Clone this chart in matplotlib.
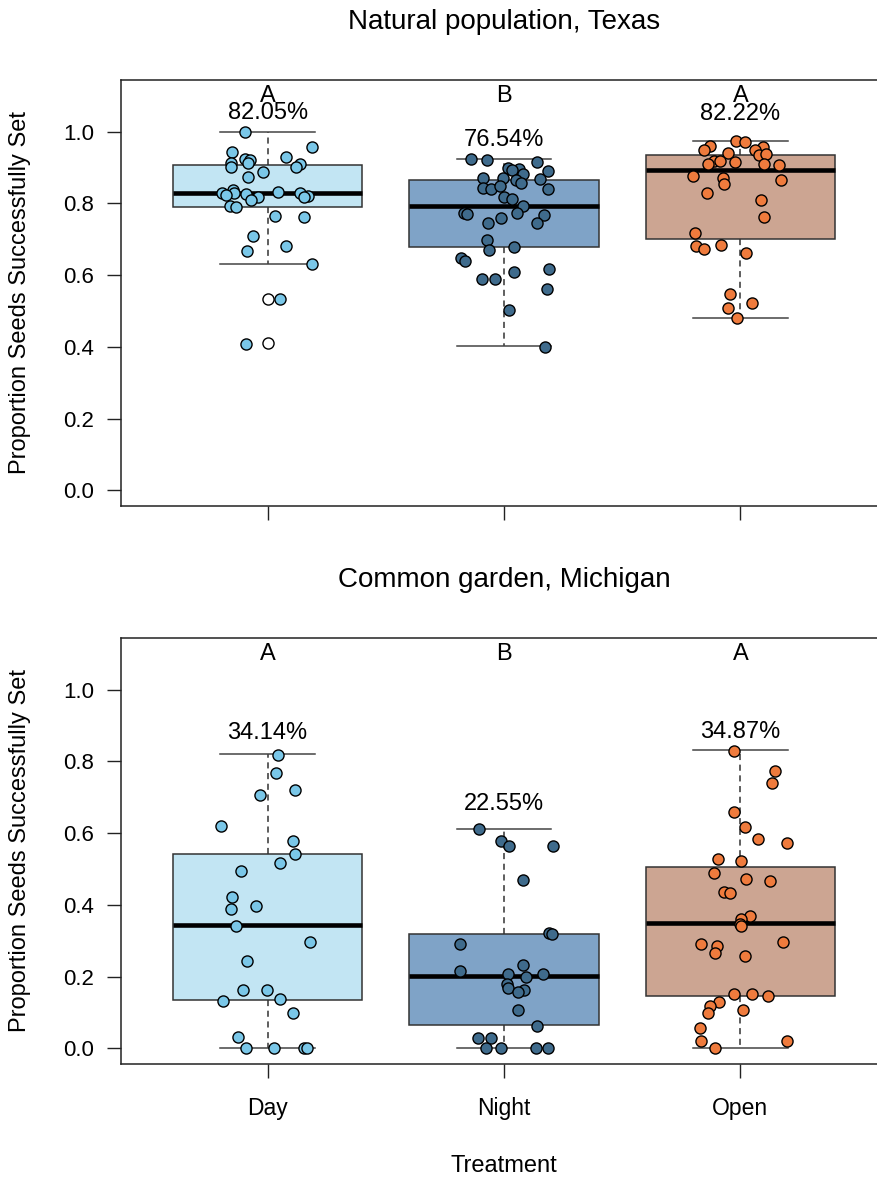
import matplotlib
matplotlib.use("Agg")
import matplotlib.pyplot as plt
import numpy as np

plt.rcParams['font.family'] = ['Liberation Sans', 'DejaVu Sans']

treatments = ["Day", "Night", "Open"]
point_colors = ["#7ac7e8", "#3f6b8c", "#ef7b3d"]
box_colors = ["#c2e5f3", "#7fa3c7", "#cca592"]
letters = ["A", "B", "A"]

# ---------------- Natural population, Texas ----------------
tx_q1 = [0.790, 0.677, 0.700]
tx_med = [0.830, 0.792, 0.892]
tx_q3 = [0.908, 0.866, 0.936]
tx_lo = [0.632, 0.401, 0.479]
tx_hi = [1.000, 0.924, 0.975]
tx_fliers = [[0.532, 0.410], [], []]
tx_pct = ["82.05%", "76.54%", "82.22%"]
tx_pct_y = [1.052, 0.977, 1.050]

tx_day_y = [1.000, 0.956, 0.943, 0.928, 0.925, 0.922, 0.913, 0.913, 0.910, 0.902,
            0.900, 0.888, 0.874, 0.829, 0.838, 0.829, 0.822, 0.827, 0.832, 0.829,
            0.820, 0.818, 0.818, 0.809, 0.792, 0.790, 0.764, 0.761, 0.708, 0.682,
            0.667, 0.631, 0.532, 0.407]
tx_day_j = [-0.097, 0.189, -0.149, 0.080, -0.097, -0.075, -0.156, -0.083, 0.137, 0.121,
            -0.156, -0.018, -0.083, -0.192, -0.145, -0.142, -0.176, -0.093, 0.044, 0.137,
            0.172, 0.154, -0.039, -0.069, -0.161, -0.135, 0.031, 0.154, -0.060, 0.079,
            -0.086, 0.186, 0.051, -0.093]

tx_night_y = [0.924, 0.921, 0.915, 0.899, 0.896, 0.892, 0.889, 0.882, 0.871, 0.871,
              0.868, 0.864, 0.857, 0.843, 0.841, 0.848, 0.840, 0.818, 0.813, 0.792,
              0.774, 0.769, 0.772, 0.767, 0.760, 0.746, 0.744, 0.697, 0.671, 0.679,
              0.648, 0.639, 0.618, 0.608, 0.588, 0.588, 0.560, 0.502, 0.400]
tx_night_j = [-0.139, -0.074, 0.140, 0.016, 0.063, 0.035, 0.187, 0.081, -0.090, -0.003,
              0.151, 0.049, 0.073, -0.088, -0.054, -0.015, 0.187, -0.001, 0.032, 0.081,
              -0.170, -0.156, 0.053, 0.171, -0.012, 0.140, -0.069, -0.074, -0.064, 0.041,
              -0.181, -0.163, 0.190, 0.044, -0.092, -0.036, 0.183, 0.023, 0.175]

tx_open_y = [0.975, 0.971, 0.959, 0.950, 0.956, 0.950, 0.941, 0.936, 0.939, 0.919,
             0.919, 0.916, 0.910, 0.911, 0.906, 0.877, 0.871, 0.855, 0.864, 0.829,
             0.809, 0.762, 0.718, 0.682, 0.673, 0.683, 0.662, 0.546, 0.523, 0.509,
             0.479]
tx_open_j = [-0.017, 0.021, -0.130, -0.152, 0.096, 0.063, -0.054, 0.078, 0.108, -0.110,
             -0.088, -0.024, -0.138, 0.101, 0.162, -0.200, -0.075, -0.068, 0.173, -0.141,
             0.087, 0.099, -0.190, -0.186, -0.152, -0.082, 0.025, -0.042, 0.049, -0.054,
             -0.014]

# ---------------- Common garden, Michigan ----------------
mi_q1 = [0.134, 0.064, 0.145]
mi_med = [0.344, 0.201, 0.349]
mi_q3 = [0.542, 0.318, 0.506]
mi_lo = [0.000, 0.000, 0.000]
mi_hi = [0.821, 0.612, 0.832]
mi_fliers = [[], [], []]
mi_pct = ["34.14%", "22.55%", "34.87%"]
mi_pct_y = [0.880, 0.682, 0.882]

mi_day_y = [0.819, 0.767, 0.707, 0.721, 0.619, 0.577, 0.542, 0.516, 0.494, 0.423,
            0.388, 0.397, 0.342, 0.295, 0.244, 0.162, 0.162, 0.132, 0.137, 0.098,
            0.030, 0.000, 0.000, 0.000, 0.000]
mi_day_j = [0.044, 0.034, -0.034, 0.116, -0.195, 0.107, 0.118, 0.052, -0.114, -0.152,
            -0.156, -0.051, -0.132, 0.179, -0.086, -0.103, -0.001, -0.187, 0.052, 0.107,
            -0.126, -0.093, 0.027, 0.154, 0.165]

mi_night_y = [0.610, 0.577, 0.563, 0.563, 0.470, 0.321, 0.318, 0.292, 0.214, 0.232,
              0.207, 0.200, 0.207, 0.179, 0.167, 0.162, 0.156, 0.107, 0.062, 0.028,
              0.028, 0.000, 0.000, 0.000, 0.000]
mi_night_j = [-0.107, -0.011, 0.020, 0.206, 0.081, 0.190, 0.204, -0.188, -0.188, 0.081,
              0.018, 0.091, 0.164, 0.011, 0.016, 0.084, 0.058, 0.058, 0.140, -0.109,
              -0.053, -0.075, -0.012, 0.137, 0.187]

mi_open_y = [0.830, 0.773, 0.739, 0.658, 0.616, 0.584, 0.572, 0.528, 0.523, 0.488,
             0.472, 0.467, 0.435, 0.433, 0.370, 0.360, 0.346, 0.340, 0.291, 0.286,
             0.295, 0.265, 0.256, 0.151, 0.151, 0.146, 0.128, 0.118, 0.097, 0.106,
             0.056, 0.019, 0.020, 0.000]
mi_open_j = [-0.028, 0.145, 0.134, -0.028, 0.021, 0.073, 0.195, -0.094, 0.003, -0.113,
             0.024, 0.124, -0.071, -0.045, 0.042, 0.003, -0.003, 0.003, -0.165, -0.099,
             0.180, -0.109, 0.018, -0.028, 0.049, 0.117, -0.089, -0.130, -0.138, 0.011,
             -0.169, -0.165, 0.195, -0.109]

texas = dict(title="Natural population, Texas", q1=tx_q1, med=tx_med, q3=tx_q3,
             lo=tx_lo, hi=tx_hi, fliers=tx_fliers, pct=tx_pct, pct_y=tx_pct_y,
             ys=[tx_day_y, tx_night_y, tx_open_y], js=[tx_day_j, tx_night_j, tx_open_j])
michigan = dict(title="Common garden, Michigan", q1=mi_q1, med=mi_med, q3=mi_q3,
                lo=mi_lo, hi=mi_hi, fliers=mi_fliers, pct=mi_pct, pct_y=mi_pct_y,
                ys=[mi_day_y, mi_night_y, mi_open_y], js=[mi_day_j, mi_night_j, mi_open_j])

W, H = 878, 1178
fig = plt.figure(figsize=(W / 100, H / 100), dpi=100)


def px_axes(left, top, right, bottom):
    return fig.add_axes([left / W, 1 - bottom / H, (right - left) / W, (bottom - top) / H])


def draw_panel(ax, d, show_xlabels):
    positions = np.arange(1, len(treatments) + 1)
    stats = []
    for i in range(len(treatments)):
        stats.append(dict(q1=d["q1"][i], med=d["med"][i], q3=d["q3"][i],
                          whislo=d["lo"][i], whishi=d["hi"][i], fliers=d["fliers"][i]))
    bp = ax.bxp(stats, positions=positions, widths=0.8, capwidths=0.4,
                patch_artist=True, showfliers=True,
                boxprops=dict(edgecolor="#333333", linewidth=1.1),
                whiskerprops=dict(color="#333333", linewidth=1.1, linestyle=(0, (4, 3))),
                capprops=dict(color="#444444", linewidth=1.1),
                medianprops=dict(color="black", linewidth=3.3, solid_capstyle="butt"),
                flierprops=dict(marker="o", markerfacecolor="white", markeredgecolor="black",
                                markersize=8, markeredgewidth=1.0))
    for patch, col in zip(bp["boxes"], box_colors):
        patch.set_facecolor(col)
    for i in range(len(treatments)):
        xs = positions[i] + np.array(d["js"][i])
        ax.scatter(xs, d["ys"][i], s=64, c=point_colors[i], edgecolors="black",
                   linewidths=1.0, zorder=4)
        ax.text(positions[i], d["pct_y"][i], d["pct"][i], ha="center", va="center",
                fontsize=17, zorder=5)
        ax.text(positions[i], 1.10, letters[i], ha="center", va="center", fontsize=17,
                zorder=5)
    ax.set_xlim(0.38, 3.62)
    ax.set_ylim(-0.044, 1.144)
    ax.set_yticks(np.arange(0, 1.01, 0.2))
    ax.set_yticklabels([f"{v:.1f}" for v in np.arange(0, 1.01, 0.2)])
    ax.set_xticks(positions)
    ax.set_xticklabels(treatments if show_xlabels else [""] * len(treatments))
    ax.tick_params(axis="both", direction="out", length=10, width=1.0, color="#222222")
    ax.tick_params(axis="y", pad=9.5, labelsize=16)
    ax.tick_params(axis="x", pad=14, labelsize=16.5)
    for s in ax.spines.values():
        s.set_linewidth(1.1)
        s.set_color("#222222")
    ax.text(0.5, 1.136, d["title"], transform=ax.transAxes, ha="center", va="center",
            fontsize=20)


ax1 = px_axes(121, 80, 887, 506)
draw_panel(ax1, texas, False)
ax2 = px_axes(121, 638, 887, 1064)
draw_panel(ax2, michigan, True)

fig.text(20 / W, 1 - 293 / H, "Proportion Seeds Successfully Set", rotation=90,
         ha="center", va="center", fontsize=17)
fig.text(20 / W, 1 - 851 / H, "Proportion Seeds Successfully Set", rotation=90,
         ha="center", va="center", fontsize=17)
fig.text(504 / W, 1 - 1166 / H, "Treatment", ha="center", va="center", fontsize=17)

fig.savefig("out.png", dpi=100)
